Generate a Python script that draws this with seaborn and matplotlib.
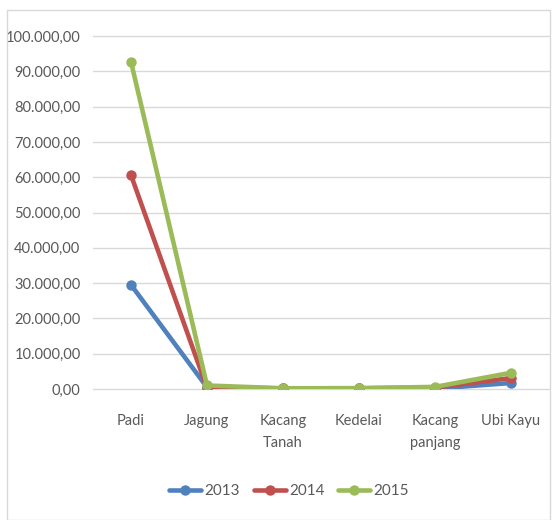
import matplotlib
matplotlib.use("Agg")
import matplotlib.pyplot as plt
import matplotlib.patches as mpatches
from matplotlib.ticker import FuncFormatter
import seaborn as sns
import pandas as pd

categories = ["Padi", "Jagung", "Kacang\nTanah", "Kedelai", "Kacang\npanjang", "Ubi Kayu"]
years = ["2013", "2014", "2015"]
values_2013 = [29500, 500, 150, 150, 100, 1700]
values_2014 = [60600, 300, 200, 200, 400, 3100]
values_2015 = [92700, 1000, 200, 250, 600, 4600]
colors = ["#4F81BD", "#C0504D", "#9BBB59"]

rows = []
for year, vals in zip(years, [values_2013, values_2014, values_2015]):
    for cat, v in zip(categories, vals):
        rows.append({"Komoditas": cat, "Tahun": year, "Produksi": v})
df = pd.DataFrame(rows)

sns.set_style("white")
plt.rcParams["font.family"] = ["Lato", "DejaVu Sans"]
text_color = "#595959"

fig = plt.figure(figsize=(5.6, 5.2), dpi=100)
fig.patches.append(mpatches.Rectangle((7 / 560, 0.0), 543 / 560, 1 - 10 / 520,
                                      transform=fig.transFigure, fill=False,
                                      edgecolor="#D9D9D9", linewidth=1.0))
ax = fig.add_axes([93 / 560, 1 - 389 / 520, 456 / 560, (389 - 36) / 520])

sns.lineplot(data=df, x="Komoditas", y="Produksi", hue="Tahun", palette=colors,
             marker="o", markersize=7.5, markeredgewidth=0, linewidth=3.3,
             sort=False, ax=ax)

ax.set_ylim(0, 100000)
ax.set_xlim(-0.5, len(categories) - 0.5)
ax.set_yticks(range(0, 100001, 10000))
ax.yaxis.set_major_formatter(FuncFormatter(
    lambda v, p: f"{v:,.2f}".replace(",", "X").replace(".", ",").replace("X", ".")))
ax.grid(axis="y", color="#D9D9D9", linewidth=1)
for gl in ax.get_ygridlines():
    gl.set_clip_on(False)
ax.set_axisbelow(True)
for s in ax.spines.values():
    s.set_visible(False)
ax.tick_params(axis="both", length=0, labelsize=10.5, colors=text_color, pad=9)
ax.tick_params(axis="x", pad=18)
for lbl in ax.get_xticklabels():
    lbl.set_linespacing(1.7)
ax.set_xlabel("")
ax.set_ylabel("")

handles, labels = ax.get_legend_handles_labels()
ax.legend(handles, labels, loc="center", bbox_to_anchor=(289 / 560, 1 - 491 / 520),
          bbox_transform=fig.transFigure, ncol=3, frameon=False, handlelength=2.1,
          handletextpad=0.2, columnspacing=0.9, fontsize=11, labelcolor=text_color)

fig.savefig("out.png", dpi=100)
